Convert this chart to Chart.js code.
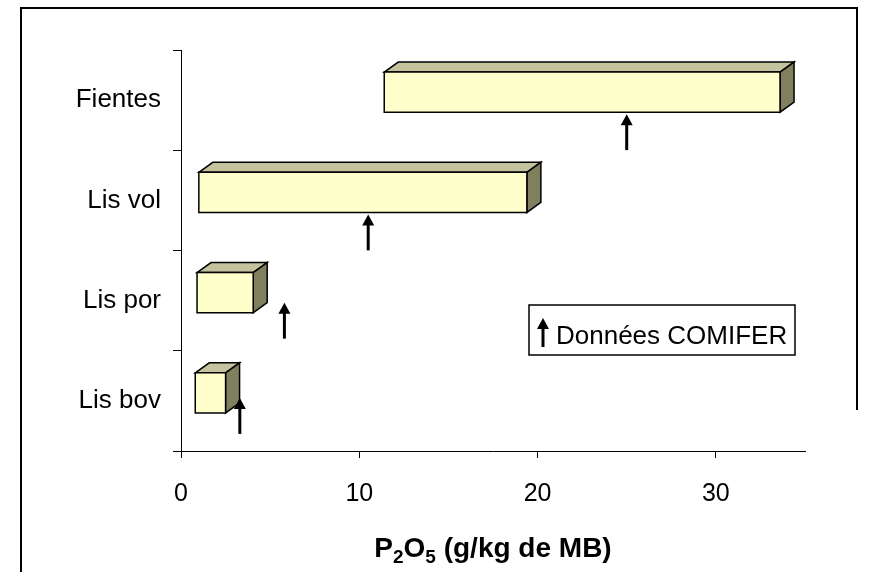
<!DOCTYPE html>
<html>
<head>
<meta charset="utf-8">
<script src="https://cdn.jsdelivr.net/npm/chart.js@4/dist/chart.umd.min.js"></script>
<style>
  html, body { margin: 0; padding: 0; background: #fff; }
  canvas { display: block; }
</style>
</head>
<body>
<canvas id="chart" width="873" height="572"></canvas>
<script>
// Fertiliser P2O5 content ranges per manure type, with the COMIFER reference value
const categories = ['Fientes', 'Lis vol', 'Lis por', 'Lis bov'];
const rangeLow   = [11.4, 1.0, 0.9, 0.8];
const rangeHigh  = [33.6, 19.4, 4.05, 2.5];
const comifer    = [25.0, 10.5, 5.8, 3.3];
const xTicks     = [0, 10, 20, 30];
const xMax       = 35;
const legendText = 'Données COMIFER';

const FONT = '"Liberation Sans", Arial, Helvetica, sans-serif';

// Styling of the pseudo-3D boxes
const BOX = {
  front: '#FFFFCC',
  top: '#C3C39E',
  side: '#80805F',
  stroke: '#000000',
  lineWidth: 1.5,
  depthX: 14,
  depthY: 10,
  lift: 8
};
// Vertical placement of each reference arrow (top offset from the row centre, px)
const ARROW_TOP = [14, 14, 2, -3];
const ARROW_LEN = 36;

function drawArrow(ctx, x, yTop, len) {
  const headH = 11, headW = 6;
  ctx.save();
  ctx.strokeStyle = '#000';
  ctx.fillStyle = '#000';
  ctx.lineWidth = 3;
  ctx.beginPath();
  ctx.moveTo(x, yTop + len);
  ctx.lineTo(x, yTop + headH - 1);
  ctx.stroke();
  ctx.beginPath();
  ctx.moveTo(x, yTop);
  ctx.lineTo(x - headW, yTop + headH);
  ctx.lineTo(x + headW, yTop + headH);
  ctx.closePath();
  ctx.fill();
  ctx.restore();
}

const framePlugin = {
  id: 'frame',
  beforeDraw(chart) {
    const ctx = chart.ctx;
    ctx.save();
    ctx.fillStyle = '#fff';
    ctx.fillRect(0, 0, chart.width, chart.height);
    ctx.strokeStyle = '#000';
    ctx.lineWidth = 2;
    ctx.beginPath();
    ctx.moveTo(21, chart.height);
    ctx.lineTo(21, 8);
    ctx.lineTo(857, 8);
    ctx.lineTo(857, 410);
    ctx.stroke();
    ctx.restore();
  }
};

const boxPlugin = {
  id: 'boxes3d',
  afterDatasetsDraw(chart) {
    const ctx = chart.ctx;
    const meta = chart.getDatasetMeta(0);
    meta.data.forEach((el) => {
      const p = el.getProps(['x', 'y', 'base', 'height'], true);
      const l = Math.min(p.x, p.base), r = Math.max(p.x, p.base);
      const t = p.y - p.height / 2 - BOX.lift, b = p.y + p.height / 2 - BOX.lift;
      const dx = BOX.depthX, dy = BOX.depthY;
      ctx.save();
      ctx.lineWidth = BOX.lineWidth;
      ctx.lineJoin = 'miter';
      ctx.strokeStyle = BOX.stroke;
      // top face
      ctx.beginPath();
      ctx.moveTo(l, t); ctx.lineTo(l + dx, t - dy); ctx.lineTo(r + dx, t - dy); ctx.lineTo(r, t); ctx.closePath();
      ctx.fillStyle = BOX.top; ctx.fill(); ctx.stroke();
      // side face
      ctx.beginPath();
      ctx.moveTo(r, t); ctx.lineTo(r + dx, t - dy); ctx.lineTo(r + dx, b - dy); ctx.lineTo(r, b); ctx.closePath();
      ctx.fillStyle = BOX.side; ctx.fill(); ctx.stroke();
      // front face
      ctx.beginPath();
      ctx.rect(l, t, r - l, b - t);
      ctx.fillStyle = BOX.front; ctx.fill(); ctx.stroke();
      ctx.restore();
    });
    // reference arrows
    const am = chart.getDatasetMeta(1);
    am.data.forEach((pt, i) => {
      drawArrow(ctx, pt.x, pt.y + ARROW_TOP[i], ARROW_LEN);
    });
  }
};

const annotatePlugin = {
  id: 'annotate',
  afterDraw(chart) {
    const ctx = chart.ctx;
    const ca = chart.chartArea;
    ctx.save();
    // legend box
    const bx = ca.right - 276, by = ca.top + 255, bw = 266, bh = 50;
    ctx.strokeStyle = '#000';
    ctx.lineWidth = 1.5;
    ctx.strokeRect(bx, by, bw, bh);
    drawArrow(ctx, bx + 14, by + 13, 29);
    ctx.fillStyle = '#000';
    ctx.font = '26px ' + FONT;
    ctx.textBaseline = 'alphabetic';
    ctx.textAlign = 'left';
    ctx.fillText(legendText, bx + 27, by + 39);

    // axis title with subscripts
    const parts = [
      { t: 'P', sub: false }, { t: '2', sub: true },
      { t: 'O', sub: false }, { t: '5', sub: true },
      { t: ' (g/kg de MB)', sub: false }
    ];
    const big = 'bold 28px ' + FONT, small = 'bold 19px ' + FONT;
    let w = 0;
    parts.forEach(p => { ctx.font = p.sub ? small : big; w += ctx.measureText(p.t).width; });
    let x = (ca.left + ca.right) / 2 - w / 2;
    const base = 557;
    parts.forEach(p => {
      ctx.font = p.sub ? small : big;
      ctx.fillText(p.t, x, p.sub ? base + 6 : base);
      x += ctx.measureText(p.t).width;
    });
    ctx.restore();
  }
};

new Chart(document.getElementById('chart'), {
  type: 'bar',
  data: {
    labels: categories,
    datasets: [
      {
        label: 'P2O5',
        data: categories.map((c, i) => [rangeLow[i], rangeHigh[i]]),
        backgroundColor: 'rgba(0,0,0,0)',
        borderWidth: 0,
        barPercentage: 1,
        categoryPercentage: 0.4
      },
      {
        type: 'line',
        label: legendText,
        data: categories.map((c, i) => ({ x: comifer[i], y: c })),
        showLine: false,
        pointRadius: 0,
        pointHoverRadius: 0
      }
    ]
  },
  options: {
    indexAxis: 'y',
    responsive: false,
    animation: false,
    devicePixelRatio: 1,
    layout: { padding: { top: 50, right: 68, bottom: 0, left: 0 } },
    plugins: { legend: { display: false }, tooltip: { enabled: false } },
    scales: {
      x: {
        type: 'linear',
        min: 0,
        max: xMax,
        afterBuildTicks(scale) {
          scale.ticks = xTicks.map(v => ({ value: v }));
        },
        afterFit(scale) { scale.height = 121; },
        grid: { drawOnChartArea: false, drawTicks: true, tickLength: 7, color: '#000', lineWidth: 1 },
        border: { display: true, color: '#000', width: 1 },
        ticks: { color: '#000', font: { family: FONT, size: 25 }, padding: 21, maxRotation: 0 }
      },
      y: {
        type: 'category',
        afterFit(scale) { scale.width = 181; },
        grid: { drawOnChartArea: false, drawTicks: true, tickLength: 8, color: '#000', lineWidth: 1, offset: true },
        border: { display: true, color: '#000', width: 1 },
        ticks: { color: '#000', font: { family: FONT, size: 26 }, padding: 12 }
      }
    }
  },
  plugins: [framePlugin, boxPlugin, annotatePlugin]
});
</script>
</body>
</html>
